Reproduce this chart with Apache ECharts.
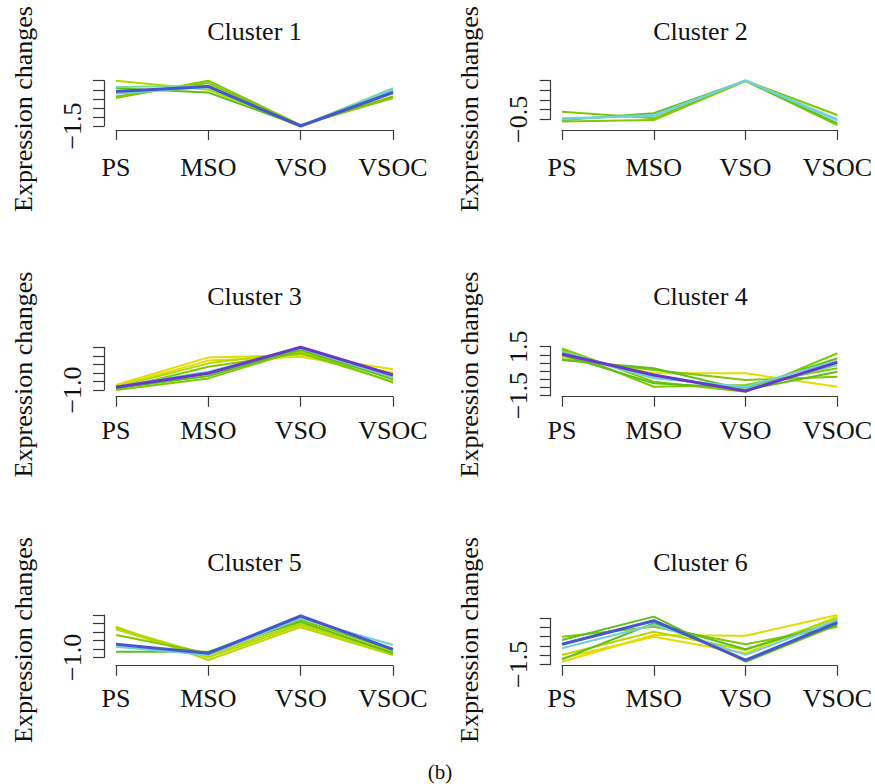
<!DOCTYPE html>
<html>
<head>
<meta charset="utf-8">
<script src="https://cdn.jsdelivr.net/npm/echarts@6/dist/echarts.min.js"></script>
<style>
html,body{margin:0;padding:0;background:#ffffff;}
#chart{width:875px;height:784px;}
</style>
</head>
<body>
<div id="chart"></div>
<script>
// ---------------- DATA ----------------
const categories = ['PS', 'MSO', 'VSO', 'VSOC'];
const clusterTitles = ['Cluster 1', 'Cluster 2', 'Cluster 3', 'Cluster 4', 'Cluster 5', 'Cluster 6'];
const yAxisLabel = 'Expression changes';
const figureLabel = '(b)';

// y-axis tick range per cluster (ticks every 0.5)
const yTickMin = [-1.5, -0.5, -1.0, -1.5, -1.0, -1.5];
const yTickMax = [1.0, 1.5, 1.5, 1.5, 1.5, 1.0];
const yTickStep = 0.5;
// tick labels that are visible (the others overlap and are not printed)
const yLabelledTicks = [[-1.5], [-0.5], [-1.0], [-1.5, 1.5], [-1.0], [-1.5]];

// standardized expression profiles (PS, MSO, VSO, VSOC) and their membership
const cluster1Values = [
  [1.00, 0.50, -1.44, 0.13],
  [0.04, 1.00, -1.45, 0.04],
  [0.13, 0.87, -1.47, 0.13],
  [0.59, 0.35, -1.50, 0.41],
  [0.65, 0.72, -1.50, 0.59],
  [0.28, 0.65, -1.52, 0.50],
  [0.41, 0.68, -1.50, 0.35]
];
const cluster1Membership = [0.58, 0.62, 0.66, 0.70, 0.80, 0.85, 0.95];

const cluster2Values = [
  [-0.11, -0.45, 1.50, -0.28],
  [-0.62, -0.54, 1.48, -0.80],
  [-0.54, -0.19, 1.50, -0.71],
  [-0.50, -0.28, 1.50, -0.57],
  [-0.45, -0.33, 1.52, -0.50]
];
const cluster2Membership = [0.62, 0.64, 0.70, 0.85, 0.88];

const cluster3Values = [
  [-0.71, 0.91, 1.05, 0.21],
  [-0.80, 0.72, 0.95, 0.01],
  [-0.84, 0.56, 1.24, -0.22],
  [-0.96, 0.36, 1.15, -0.51],
  [-1.00, -0.32, 1.34, -0.57],
  [-0.90, -0.18, 1.38, -0.37],
  [-0.80, 0.07, 1.44, -0.26],
  [-0.84, -0.02, 1.50, -0.12]
];
const cluster3Membership = [0.50, 0.52, 0.56, 0.60, 0.65, 0.70, 0.85, 1.00];

const cluster4Values = [
  [0.89, -0.13, -0.13, -0.95],
  [0.73, 0.07, -0.54, -0.34],
  [1.30, -0.95, -0.84, 0.18],
  [1.40, -0.64, -1.26, 1.10],
  [0.99, -0.74, -1.05, 0.79],
  [0.69, 0.18, -1.15, -0.03],
  [1.19, -0.34, -1.10, 0.38],
  [1.13, -0.43, -0.95, 0.64],
  [1.05, -0.23, -1.21, 0.54]
];
const cluster4Membership = [0.50, 0.62, 0.64, 0.66, 0.70, 0.72, 0.80, 0.88, 1.00];

const cluster5Values = [
  [0.81, -1.16, 0.78, -0.86],
  [0.66, -1.00, 0.91, -0.76],
  [0.72, -0.86, 1.01, -0.67],
  [0.32, -0.76, 1.21, -0.57],
  [-0.67, -0.67, 1.11, -0.76],
  [-0.37, -0.86, 1.31, -0.27],
  [-0.23, -0.76, 1.44, -0.53]
];
const cluster5Membership = [0.54, 0.55, 0.58, 0.65, 0.70, 0.85, 0.95];

const cluster6Values = [
  [-1.36, 0.09, 0.05, 1.18],
  [-1.17, 0.00, -0.90, 1.09],
  [-0.99, 0.27, -0.72, 1.00],
  [0.00, 0.54, -0.41, 0.54],
  [-0.18, 1.09, -1.36, 0.64],
  [-1.23, 0.73, -0.68, 0.82],
  [-0.63, 0.64, -0.99, 0.91],
  [-0.41, 0.87, -1.27, 0.76]
];
const cluster6Membership = [0.50, 0.52, 0.56, 0.62, 0.68, 0.70, 0.85, 0.97];

const clusterValues = [cluster1Values, cluster2Values, cluster3Values, cluster4Values, cluster5Values, cluster6Values];
const clusterMembership = [cluster1Membership, cluster2Membership, cluster3Membership, cluster4Membership, cluster5Membership, cluster6Membership];

// ---------------- LAYOUT / STYLE ----------------
const FONT = '"Liberation Serif", "Times New Roman", serif';
const FONT_SIZE = 26;
const AXIS_COLOR = '#3a3a3a';
const TEXT_COLOR = '#111111';
const colLayout = [
  { yAxisX: 104, left: 116, right: 393, ylabX: 23 },
  { yAxisX: 550.7, left: 562, right: 839, ylabX: 469 }
];
// per panel: top tick y, bottom tick y, x axis line y, x label margin
const panelLayout = [
  { top: 80.7, bottom: 126, axisY: 130, labMargin: 24 },
  { top: 80.7, bottom: 119.3, axisY: 130, labMargin: 24 },
  { top: 347.3, bottom: 390, axisY: 396.7, labMargin: 20.5 },
  { top: 346.7, bottom: 395.7, axisY: 396.7, labMargin: 20.5 },
  { top: 615, bottom: 657.3, axisY: 665.7, labMargin: 20 },
  { top: 618.3, bottom: 664.3, axisY: 665.7, labMargin: 20 }
];
const rowTitleMid = [31, 296.2, 562];
const rowYlabMid = [109, 374.5, 640];

function colorFor(m) {
  if (m < 0.53) return '#e2dc00';
  if (m < 0.60) return '#b8d600';
  if (m < 0.67) return '#80c800';
  if (m < 0.75) return '#5cc01c';
  if (m < 0.82) return '#74dc98';
  if (m < 0.90) return '#72cfe0';
  if (m < 0.99) return '#4656cc';
  return '#6a38c8';
}
function fmtTick(v) {
  const s = Math.abs(v).toFixed(1);
  return v < 0 ? '\u2212' + s : s;
}

const grids = [], xAxes = [], yAxes = [], series = [], texts = [];
for (let i = 0; i < 6; i++) {
  const col = colLayout[i % 2];
  const p = panelLayout[i];
  const row = Math.floor(i / 2);
  grids.push({ left: col.left, top: p.top, width: col.right - col.left, height: p.bottom - p.top, containLabel: false });
  xAxes.push({
    type: 'category', gridIndex: i, data: categories, boundaryGap: false,
    position: 'bottom',
    offset: p.axisY - p.bottom,
    axisLine: { show: true, onZero: false, lineStyle: { color: AXIS_COLOR, width: 1.2 } },
    axisTick: { show: true, length: 10, lineStyle: { color: AXIS_COLOR, width: 1.2 } },
    axisLabel: { interval: 0, margin: p.labMargin, fontFamily: FONT, fontSize: FONT_SIZE, color: TEXT_COLOR, hideOverlap: false },
    splitLine: { show: false }
  });
  const shown = yLabelledTicks[i];
  yAxes.push({
    type: 'value', gridIndex: i, min: yTickMin[i], max: yTickMax[i], interval: yTickStep,
    position: 'left',
    offset: col.left - col.yAxisX,
    axisLine: { show: true, onZero: false, lineStyle: { color: AXIS_COLOR, width: 1.2 } },
    axisTick: { show: true, length: 11, lineStyle: { color: AXIS_COLOR, width: 1.2 } },
    splitLine: { show: false },
    axisLabel: {
      rotate: 90, margin: 19, fontFamily: FONT, fontSize: FONT_SIZE, color: TEXT_COLOR,
      showMinLabel: true, showMaxLabel: true, hideOverlap: false,
      formatter: function (v) {
        for (const t of shown) { if (Math.abs(t - v) < 1e-6) return fmtTick(v); }
        return '';
      }
    }
  });
  const vals = clusterValues[i], mem = clusterMembership[i];
  for (let k = 0; k < vals.length; k++) {
    const m = mem[k];
    series.push({
      type: 'line', xAxisIndex: i, yAxisIndex: i, data: vals[k],
      symbol: 'none', silent: true, clip: false, z: 2 + k,
      lineStyle: { color: colorFor(m), width: m >= 0.9 ? 3 : 2 }
    });
  }
  texts.push({
    type: 'text', x: (col.left + col.right) / 2, y: rowTitleMid[row],
    style: { text: clusterTitles[i], fontFamily: FONT, fontSize: FONT_SIZE, fill: TEXT_COLOR, align: 'center', verticalAlign: 'middle' }
  });
  texts.push({
    type: 'text', x: col.ylabX, y: rowYlabMid[row], rotation: Math.PI / 2,
    style: { text: yAxisLabel, fontFamily: FONT, fontSize: FONT_SIZE, fill: TEXT_COLOR, align: 'center', verticalAlign: 'middle' }
  });
}
texts.push({
  type: 'text', x: 440, y: 772,
  style: { text: figureLabel, fontFamily: FONT, fontSize: 21, fill: TEXT_COLOR, align: 'center', verticalAlign: 'middle' }
});

const chart = echarts.init(document.getElementById('chart'), null, { renderer: 'svg', width: 875, height: 784 });
chart.setOption({
  animation: false,
  backgroundColor: '#ffffff',
  grid: grids,
  xAxis: xAxes,
  yAxis: yAxes,
  series: series,
  graphic: { elements: texts }
});
</script>
</body>
</html>
